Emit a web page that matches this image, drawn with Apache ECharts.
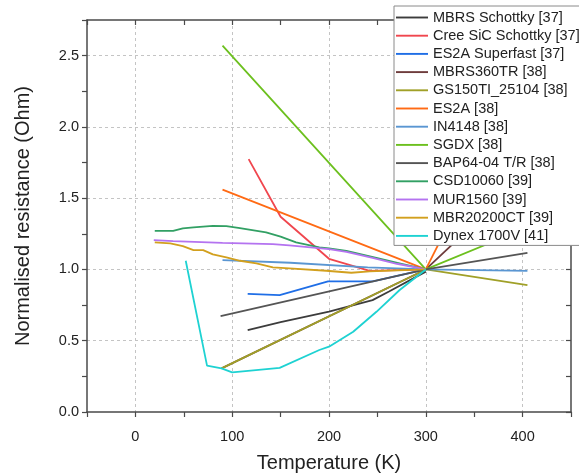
<!DOCTYPE html>
<html>
<head>
<meta charset="utf-8">
<script src="https://cdn.jsdelivr.net/npm/echarts@6/dist/echarts.min.js"></script>
<style>html,body{margin:0;padding:0;background:#fff;}#c{width:579px;height:476px;}</style>
</head>
<body>
<div id="c"></div>
<script>
// Series names (legend order)
const seriesNames = ['MBRS Schottky [37]','Cree SiC Schottky [37]','ES2A Superfast [37]','MBRS360TR [38]','GS150TI_25104 [38]','ES2A [38]','IN4148 [38]','SGDX [38]','BAP64-04 T/R [38]','CSD10060 [39]','MUR1560 [39]','MBR20200CT [39]','Dynex 1700V [41]'];
const seriesColors = ['#3c3c3c','#f0464e','#1f6ee6','#6e3c3c','#a0a028','#ff6a14','#5a96d2','#6cc01e','#555555','#32a064','#b473f0','#d2a01e','#1ed2d2'];

// Temperature (K) and normalised resistance for each series
const mbrsSchottkyT = [116,150,200,245,262,300];
const mbrsSchottkyR = [0.575,0.63,0.705,0.785,0.845,0.985];
const creeT = [117,150,200,242,300];
const creeR = [1.774,1.37,1.075,0.99,1.0];
const es2aSuperfastT = [116,149,199,245,300];
const es2aSuperfastR = [0.828,0.82,0.917,0.917,1.0];
const mbrs360T = [89,300,350];
const mbrs360R = [0.306,1.0,1.32];
const gs150T = [89,300,405];
const gs150R = [0.306,1.0,0.89];
const es2aT = [90,300,360];
const es2aR = [1.56,1.0,1.81];
const in4148T = [90,160,240,300,405];
const in4148R = [1.065,1.047,1.015,1.0,0.99];
const sgdxT = [90,300,400];
const sgdxR = [2.57,1.0,1.28];
const bap64T = [88,300,405];
const bap64R = [0.673,1.0,1.117];
const csdT = [20,39,49,60,80,94,108,135,150,166,190,200,218,250,275,300];
const csdR = [1.271,1.27,1.288,1.295,1.306,1.304,1.29,1.26,1.23,1.19,1.155,1.148,1.13,1.08,1.04,1.0];
const murT = [19,39,90,142,159,200,218,245,270,300];
const murR = [1.206,1.199,1.187,1.178,1.169,1.143,1.124,1.082,1.04,1.0];
const mbr20200T = [20,36,49,60,70,80,94,108,125,142,159,197,223,242,300];
const mbr20200R = [1.19,1.183,1.164,1.136,1.136,1.106,1.085,1.061,1.043,1.015,1.008,0.991,0.977,0.987,1.0];
const dynexT = [52,74,89,100,149,190,200,225,249,273,300];
const dynexR = [1.061,0.325,0.306,0.278,0.31,0.435,0.458,0.563,0.703,0.856,1.0];

const seriesT = [mbrsSchottkyT,creeT,es2aSuperfastT,mbrs360T,gs150T,es2aT,in4148T,sgdxT,bap64T,csdT,murT,mbr20200T,dynexT];
const seriesR = [mbrsSchottkyR,creeR,es2aSuperfastR,mbrs360R,gs150R,es2aR,in4148R,sgdxR,bap64R,csdR,murR,mbr20200R,dynexR];

// Axis ticks
const xGridValues = [0,100,200,300,400];
const yGridValues = [0.5,1.0,1.5,2.0,2.5];

const axisColor = '#4a4a4a';
const font = '"Liberation Sans", Arial, sans-serif';
const gridLine = {show:true, lineStyle:{color:'#c4c4c4', width:1, type:[3,3]}};

const chart = echarts.init(document.getElementById('c'), null, {renderer:'canvas'});
chart.setOption({
  animation:false,
  backgroundColor:'#fff',
  textStyle:{fontFamily:font},
  grid:{left:87, right:8, top:20, bottom:64, containLabel:false, outerBoundsMode:'none'},
  legend:{
    orient:'vertical', left:394, top:6,
    itemWidth:32, itemHeight:14, itemGap:3.2,
    icon:'path://M0,0 L32,0 L32,1.9 L0,1.9 Z',
    padding:[4,6,2,2],
    borderColor:'#8a8a8a', borderWidth:1, backgroundColor:'#fff',
    textStyle:{fontSize:14.5, color:'#222', fontFamily:font},
    data:seriesNames
  },
  xAxis:[
    {type:'value', min:-50, max:450, interval:50, position:'bottom',
     name:'Temperature (K)', nameLocation:'middle', nameGap:41,
     nameTextStyle:{fontSize:20, color:'#222', fontFamily:font},
     axisLine:{show:true, onZero:false, lineStyle:{color:axisColor, width:1.5}},
     axisTick:{show:true, length:5, lineStyle:{color:axisColor, width:1.2}},
     axisLabel:{fontSize:14.5, color:'#222', margin:17, formatter:v => (v % 100 === 0 ? String(v) : '')},
     splitLine:{show:false}},
    {type:'value', min:-50, max:450, interval:50, position:'top',
     axisLine:{show:true, onZero:false, lineStyle:{color:axisColor, width:1.5}},
     axisTick:{show:true, inside:true, length:5, lineStyle:{color:axisColor, width:1.2}},
     axisLabel:{show:false}, splitLine:{show:false}},
    {type:'value', min:-50, max:450, position:'bottom',
     axisLine:{show:false, onZero:false},
     axisTick:{show:false, customValues:xGridValues},
     axisLabel:{show:false, customValues:xGridValues},
     splitLine:gridLine}
  ],
  yAxis:[
    {type:'value', min:0, max:2.75, interval:0.25, position:'left',
     name:'Normalised resistance (Ohm)', nameLocation:'middle', nameGap:54,
     nameTextStyle:{fontSize:20, color:'#222', fontFamily:font},
     axisLine:{show:true, onZero:false, lineStyle:{color:axisColor, width:1.5}},
     axisTick:{show:true, length:5, lineStyle:{color:axisColor, width:1.2}},
     axisLabel:{fontSize:14.5, color:'#222', margin:8,
       formatter:v => (Math.abs(v*2 - Math.round(v*2)) < 1e-9 ? v.toFixed(1) : '')},
     splitLine:{show:false}},
    {type:'value', min:0, max:2.75, interval:0.25, position:'right',
     axisLine:{show:true, onZero:false, lineStyle:{color:axisColor, width:1.5}},
     axisTick:{show:true, inside:true, length:5, lineStyle:{color:axisColor, width:1.2}},
     axisLabel:{show:false}, splitLine:{show:false}},
    {type:'value', min:0, max:2.75, position:'left',
     axisLine:{show:false, onZero:false},
     axisTick:{show:false, customValues:yGridValues},
     axisLabel:{show:false, customValues:yGridValues},
     splitLine:gridLine}
  ],
  series: seriesNames.map((name, i) => ({
    name: name,
    type:'line',
    xAxisIndex:0, yAxisIndex:0,
    symbol:'none',
    color: seriesColors[i],
    lineStyle:{width:1.8, color:seriesColors[i]},
    data: seriesT[i].map((t, j) => [t, seriesR[i][j]])
  }))
});
</script>
</body>
</html>
